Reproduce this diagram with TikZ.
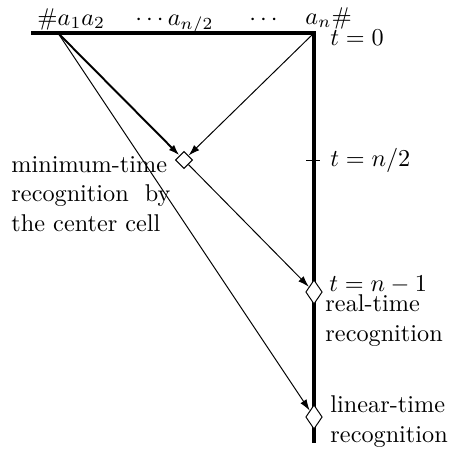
\documentclass[tikz,border=0pt]{standalone}
\usepackage{amssymb,amsmath}
\usepackage{tikz}
\usetikzlibrary{positioning,shapes.geometric,arrows.meta}

\begin{document}
\begin{tikzpicture}[x=0.0145cm, y=-0.0145cm,
  axis/.style={line width=1.35pt},
  sig/.style={-{Latex[length=4.6pt,width=3pt]}, line width=0.4pt},
  fastsig/.style={sig, line width=0.8pt},
  hit/.style={diamond, draw, fill=white, line width=0.4pt, inner sep=0pt,
    minimum width=0.24cm, minimum height=0.35cm},
  midhit/.style={hit, minimum width=0.25cm, minimum height=0.25cm},
  lbl/.style={anchor=base west, inner sep=0pt},
  txt/.style={align=left, inner sep=0pt}]
\useasboundingbox (0,0) rectangle (453,450);
\coordinate (left) at (31,33);
\coordinate (a1) at (58,33);
\coordinate (right) at (314,33);
\coordinate (bottom) at (314,443);
\coordinate (half) at (314,160);
\draw[axis] (left) -- (right) -- (bottom);
\node[midhit] (center) at (184,160) {};
\node[hit] (real) at (314,292) {};
\node[hit] (linear) at (314,417) {};
\draw[fastsig] (a1) -- (center);
\draw[sig] (right) -- (center);
\draw[sig] (center) -- (real);
\draw[sig] (a1) -- (linear);
\draw ([xshift=-0.116cm]half) -- ([xshift=0.087cm]half);
% input word
\node[lbl] (w1) at (37,25) {$\#a_1a_2$};
\node[lbl] (w2) at (135,25) {$\cdots a_{n/2}$};
\node[lbl] (w3) at (249,25) {$\cdots$};
\node[lbl] (w4) at (305,24) {$a_n\#$};
% time labels
\node[lbl] (t0) at (330,45) {$t=0$};
\node[lbl] (thalf) at (330,166) {$t=n/2$};
\node[lbl] (tn) at (329,291) {$t=n-1$};
\node[txt, lbl] (realtxt) at (325,341) {real-time\\recognition};
\node[txt, lbl] (lintxt) at (330,442) {linear-time\\recognition};
\node[txt, lbl] (mintxt) at (11,231) {minimum-time\\recognition~~by\\the center cell};
\end{tikzpicture}
\end{document}
